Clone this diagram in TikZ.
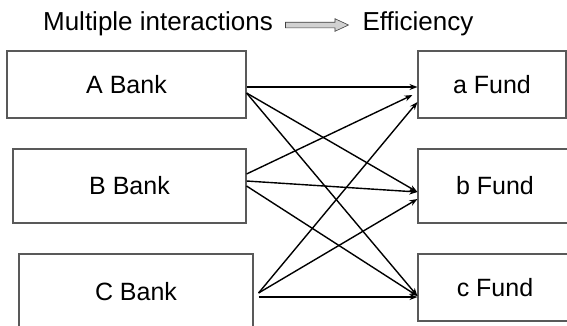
\documentclass[tikz,border=0pt]{standalone}
\usepackage{fontspec}
\setmainfont{Liberation Sans}
\usepackage{tikz}
\usetikzlibrary{arrows.meta}
\usetikzlibrary{shapes.arrows}

\begin{document}
\begin{tikzpicture}[x=1pt,y=-1pt,
            bank-node/.style={rectangle,draw=black!65,line width=1.1pt,inner sep=0pt,font=\fontsize{25}{30}\selectfont},
            title-node/.style={inner sep=0pt,font=\fontsize{26}{30}\selectfont},
            link/.style={line width=1.4pt,-{Stealth[length=8pt,width=6pt]}},
        ]
            \useasboundingbox (0,0) rectangle (567,325);

            \node[title-node] (multi) at (158, 24) {Multiple interactions};
            \node[single arrow,draw=black!75,fill=black!18,line width=0.6pt,
                  inner xsep=0pt,inner ysep=2.5pt,minimum height=63pt,
                  single arrow head extend=3.5pt,single arrow tip angle=50] (shift) at (314, 25) {};
            \node[title-node] (eff) at (418, 24) {Efficiency};

            \node[bank-node,minimum width=239pt,minimum height=67pt] (A) at (126.5, 84.5) {A Bank};
            \node[bank-node,minimum width=233pt,minimum height=74pt] (B) at (129.5, 186) {B Bank};
            \node[bank-node,minimum width=234pt,minimum height=76pt] (C) at (136, 292) {C Bank};

            \node[bank-node,minimum width=148pt,minimum height=67pt] (a) at (492, 84.5) {a Fund};
            \node[bank-node,minimum width=154pt,minimum height=74pt] (b) at (495, 186) {b Fund};
            \node[bank-node,minimum width=154pt,minimum height=67pt] (c) at (495, 287.5) {c Fund};

            \draw[link] ([yshift=-2.5pt]A.east) -- ([yshift=-2.5pt]a.west);
            \draw[link] ([yshift=-8.5pt]A.east) -- ([yshift=-6pt]b.west);
            \draw[link] ([yshift=-8.5pt]A.east) -- ([yshift=-8.5pt]c.west);
            \draw[link] ([yshift=12pt]B.east) -- ([xshift=-5pt,yshift=-10.5pt]a.west);
            \draw[link] ([yshift=5pt]B.east) -- ([yshift=-6pt]b.west);
            \draw[link] (B.east) -- ([yshift=-8.5pt]c.west);
            \draw[link] ([xshift=5pt,yshift=-1pt]C.east) -- ([yshift=-17.5pt]a.west);
            \draw[link] ([xshift=5pt,yshift=-1pt]C.east) -- ([yshift=-13pt]b.west);
            \draw[link] ([xshift=5pt,yshift=-5pt]C.east) -- ([yshift=-9.5pt]c.west);
        \end{tikzpicture}
\end{document}
